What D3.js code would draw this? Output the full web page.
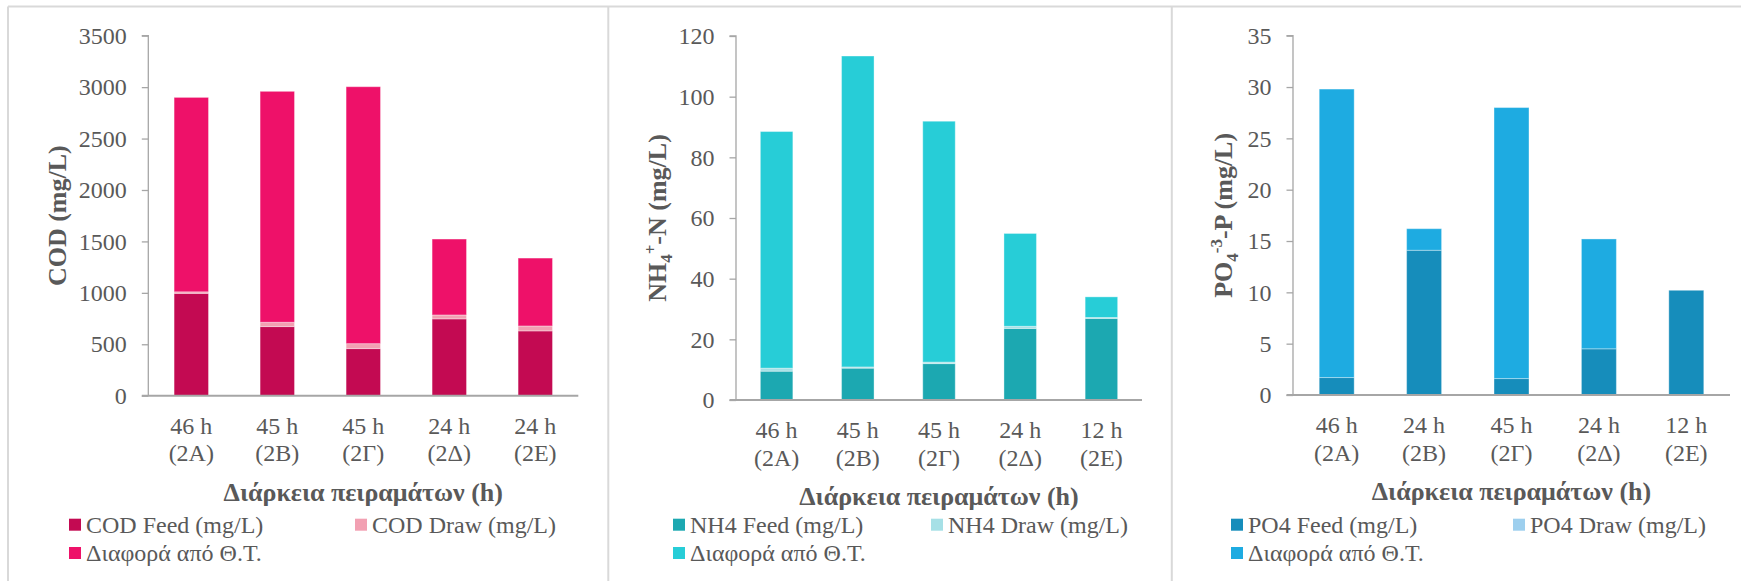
<!DOCTYPE html>
<html>
<head>
<meta charset="utf-8">
<script src="https://cdn.jsdelivr.net/npm/d3@7"></script>
<style>
  html, body { margin: 0; padding: 0; background: #ffffff; }
  svg { display: block; }
</style>
</head>
<body>
<svg id="chart" width="1741" height="581"></svg>
<script>
// Category labels (two lines: duration / run code)
const codDurations = ["46 h", "45 h", "45 h", "24 h", "24 h"];
const nh4Durations = ["46 h", "45 h", "45 h", "24 h", "12 h"];
const po4Durations = ["46 h", "24 h", "45 h", "24 h", "12 h"];
const runCodes = ["(2Α)", "(2Β)", "(2Γ)", "(2Δ)", "(2Ε)"];

// COD (mg/L)
const codFeed = [995, 672, 458, 747, 630];
const codDraw = [15, 42, 48, 38, 48];
const codDiff = [1890, 2245, 2498, 738, 660];

// NH4+-N (mg/L)
const nh4Feed = [9.5, 10.5, 12.0, 23.6, 26.9];
const nh4Draw = [1.0, 0.4, 0.5, 0.7, 0.3];
const nh4Diff = [78.0, 102.5, 79.4, 30.6, 6.8];

// PO4-3-P (mg/L)
const po4Feed = [1.7, 14.1, 1.6, 4.5, 10.2];
const po4Draw = [0, 0, 0, 0, 0];
const po4Diff = [28.1, 2.1, 26.4, 10.7, 0];

// Axis ticks
const codTicks = [0, 500, 1000, 1500, 2000, 2500, 3000, 3500];
const nh4Ticks = [0, 20, 40, 60, 80, 100, 120];
const po4Ticks = [0, 5, 10, 15, 20, 25, 30, 35];

const xAxisTitle = "Διάρκεια πειραμάτων (h)";

const FONT = "'Liberation Serif', 'Times New Roman', Tinos, 'DejaVu Serif', serif";
const TEXT_COLOR = "#595959";

const panels = [
  {
    durations: codDurations, feed: codFeed, draw: codDraw, diff: codDiff, ticks: codTicks,
    yTitle: [{t: "COD (mg/L)"}],
    names: ["COD Feed (mg/L)", "COD Draw (mg/L)", "Διαφορά από Θ.Τ."],
    colors: ["#c30a52", "#f2a0b2", "#ee1169"],
    x0: 148.3, x1: 578.3, yTop: 35.7, yBot: 395.7, titleX: 57, legX: [69, 355]
  },
  {
    durations: nh4Durations, feed: nh4Feed, draw: nh4Draw, diff: nh4Diff, ticks: nh4Ticks,
    yTitle: [{t: "NH"}, {t: "4", sub: true}, {t: "+", sup: true}, {t: "-N (mg/L)"}],
    names: ["NH4 Feed (mg/L)", "NH4 Draw (mg/L)", "Διαφορά από Θ.Τ."],
    colors: ["#1ca8b1", "#a6e0e6", "#27cdd7"],
    x0: 736, x1: 1142, yTop: 36, yBot: 400, titleX: 657, legX: [673, 931]
  },
  {
    durations: po4Durations, feed: po4Feed, draw: po4Draw, diff: po4Diff, ticks: po4Ticks,
    yTitle: [{t: "PO"}, {t: "4", sub: true}, {t: "-3", sup: true}, {t: "-P (mg/L)"}],
    names: ["PO4 Feed (mg/L)", "PO4 Draw (mg/L)", "Διαφορά από Θ.Τ."],
    colors: ["#168dbb", "#9dcfee", "#1eabe1"],
    x0: 1293, x1: 1730, yTop: 35.7, yBot: 395, titleX: 1223, legX: [1231, 1513]
  }
];

const svg = d3.select("#chart");

// Frame around the three panels
const frame = svg.append("g").attr("stroke", "#d9d9d9").attr("stroke-width", 2);
frame.append("line").attr("x1", 8).attr("x2", 1741).attr("y1", 6.5).attr("y2", 6.5);
[8, 608.3, 1171.8].forEach(x => {
  frame.append("line").attr("x1", x).attr("x2", x).attr("y1", 6.5).attr("y2", 581);
});

const keys = ["feed", "draw", "diff"];

function styleText(sel, size, bold) {
  sel.style("font-family", FONT)
     .style("font-size", size + "px")
     .style("font-weight", bold ? "bold" : "normal")
     .style("fill", TEXT_COLOR);
}

panels.forEach(p => {
  const g = svg.append("g");
  const rows = p.durations.map((d, i) => ({i, feed: p.feed[i], draw: p.draw[i], diff: p.diff[i]}));

  const x = d3.scaleBand()
    .domain(rows.map(r => r.i))
    .range([p.x0, p.x1])
    .paddingInner(0.6)
    .paddingOuter(0.3);

  const y = d3.scaleLinear()
    .domain([0, p.ticks[p.ticks.length - 1]])
    .range([p.yBot, p.yTop]);

  const series = d3.stack().keys(keys)(rows);

  // Stacked bars
  g.append("g").selectAll("g")
    .data(series)
    .join("g")
      .attr("fill", (s, k) => p.colors[k])
    .selectAll("rect")
    .data(s => s)
    .join("rect")
      .attr("x", d => x(d.data.i))
      .attr("width", x.bandwidth())
      .attr("y", d => y(d[1]))
      .attr("height", d => Math.max(0, y(d[0]) - y(d[1])))
      .attr("stroke", "rgba(255,255,255,0.35)")
      .attr("stroke-width", 1);

  // Y axis
  const yAxis = g.append("g")
    .attr("transform", `translate(${p.x0},0)`)
    .call(d3.axisLeft(y).tickValues(p.ticks).tickSize(6.5).tickPadding(15).tickFormat(d3.format("d")));
  yAxis.select(".domain").attr("stroke", "#a6a6a6").attr("stroke-width", 1.3)
    .attr("d", `M-6.5,${p.yTop}H0V${p.yBot}`);
  yAxis.selectAll(".tick line").attr("stroke", "#a6a6a6").attr("stroke-width", 1.3);
  styleText(yAxis.selectAll(".tick text"), 24, false);

  // X axis line (extends left by tick length)
  g.append("line")
    .attr("x1", p.x0 - 6.5).attr("x2", p.x1)
    .attr("y1", p.yBot).attr("y2", p.yBot)
    .attr("stroke", "#a6a6a6").attr("stroke-width", 2);

  // Category labels
  const cat = g.append("g").attr("text-anchor", "middle");
  styleText(cat.selectAll("text.dur")
    .data(rows)
    .join("text")
      .attr("class", "dur")
      .attr("x", d => x(d.i) + x.bandwidth() / 2)
      .attr("y", p.yBot + 38)
      .text(d => p.durations[d.i]), 24, false);
  styleText(cat.selectAll("text.code")
    .data(rows)
    .join("text")
      .attr("class", "code")
      .attr("x", d => x(d.i) + x.bandwidth() / 2)
      .attr("y", p.yBot + 65.5)
      .text(d => runCodes[d.i]), 24, false);

  // X axis title
  styleText(g.append("text")
    .attr("x", (p.x0 + p.x1) / 2)
    .attr("y", p.yBot + 105)
    .attr("text-anchor", "middle")
    .text(xAxisTitle), 26, true);

  // Y axis title (rotated)
  const yt = g.append("text")
    .attr("transform", `translate(${p.titleX},${(p.yTop + p.yBot) / 2}) rotate(-90)`)
    .attr("text-anchor", "middle")
    .attr("dy", "0.35em");
  styleText(yt, 26, true);
  p.yTitle.forEach((part, k) => {
    const ts = yt.append("tspan").text(part.t);
    if (part.sub) ts.style("font-size", "17px").attr("dy", 6);
    else if (part.sup) ts.style("font-size", "17px").attr("dy", -16);
    else if (k > 0) ts.attr("dy", 10);
  });

  // Legend
  const legendItems = [
    {k: 0, x: p.legX[0], y: 524.7},
    {k: 1, x: p.legX[1], y: 524.7},
    {k: 2, x: p.legX[0], y: 553}
  ];
  const leg = g.append("g");
  leg.selectAll("rect")
    .data(legendItems)
    .join("rect")
      .attr("x", d => d.x)
      .attr("y", d => d.y - 6)
      .attr("width", 12)
      .attr("height", 12)
      .attr("fill", d => p.colors[d.k]);
  styleText(leg.selectAll("text")
    .data(legendItems)
    .join("text")
      .attr("x", d => d.x + 17)
      .attr("y", d => d.y + 8)
      .text(d => p.names[d.k]), 24, false);
});
</script>
</body>
</html>
